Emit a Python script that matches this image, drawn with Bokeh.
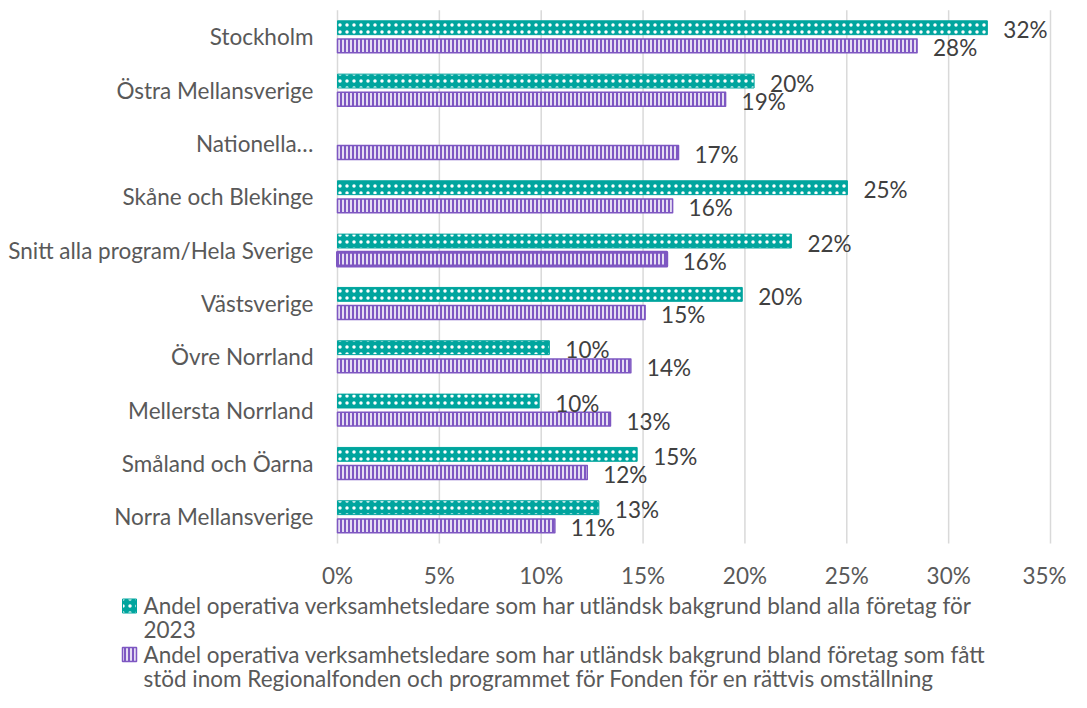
from bokeh.plotting import figure
from bokeh.models import Range1d, ColumnDataSource
from bokeh.embed import file_html
from bokeh.resources import INLINE
from bokeh.core.properties import value

# ---------------- data ----------------
categories = [
    "Stockholm",
    "Östra Mellansverige",
    "Nationella…",
    "Skåne och Blekinge",
    "Snitt alla program/Hela Sverige",
    "Västsverige",
    "Övre Norrland",
    "Mellersta Norrland",
    "Småland och Öarna",
    "Norra Mellansverige",
]
share_all_2023 = [31.9, 20.45, None, 25.03, 22.28, 19.87, 10.4, 9.9, 14.71, 12.83]
share_supported = [28.45, 19.05, 16.74, 16.45, 16.16, 15.1, 14.4, 13.4, 12.26, 10.67]

x_ticks = [0, 5, 10, 15, 20, 25, 30, 35]
x_tick_labels = ["0%", "5%", "10%", "15%", "20%", "25%", "30%", "35%"]

legend_lines_all = [
    "Andel operativa verksamhetsledare som har utländsk bakgrund bland alla företag för",
    "2023",
]
legend_lines_supported = [
    "Andel operativa verksamhetsledare som har utländsk bakgrund bland företag som fått",
    "stöd inom Regionalfonden och programmet för Fonden för en rättvis omställning",
]

# ---------------- style / layout ----------------
FONT = "Lato"
FS = "22.5px"
TEAL = "#00A59E"
PURPLE = "#7E57C2"
GRID = "#D9D9D9"
TXT = "#595959"
LBL = "#404040"
W, H = 1071, 692

PLOT_LEFT_PX = 337      # pixel position of the value 0
PLOT_RIGHT_PX = 1050    # pixel position of the axis maximum
ROW_PX = 53.33          # height of one category band
ROW0_PX = 36.3          # centre of the first category band
x_max = x_ticks[-1]
px_per_unit = (PLOT_RIGHT_PX - PLOT_LEFT_PX) / x_max

def px_x(px):
    return (px - PLOT_LEFT_PX) / px_per_unit

def px_y(py):
    return (py - ROW0_PX) / ROW_PX

p = figure(
    width=W, height=H,
    x_range=Range1d(px_x(0), px_x(W)),
    y_range=Range1d(px_y(H), px_y(0)),          # category index grows downwards
    output_backend="svg", toolbar_location=None,
    min_border_left=0, min_border_right=0, min_border_top=0, min_border_bottom=0,
    x_axis_location=None, y_axis_location=None,
)
p.outline_line_color = None
p.grid.visible = False

n = len(categories)
idx = list(range(n))

# vertical gridlines across the category bands
p.segment(x0=x_ticks, x1=x_ticks, y0=[-0.5] * len(x_ticks), y1=[n - 0.5] * len(x_ticks),
          line_color=GRID, line_width=1.5)

# x tick labels below the bands (last one nudged so it stays inside the canvas)
tick_src = ColumnDataSource(dict(
    x=x_ticks, y=[n - 0.5] * len(x_ticks), text=x_tick_labels,
    dx=[0] * (len(x_ticks) - 1) + [-6],
))
p.text(x="x", y="y", text="text", x_offset="dx", y_offset=32, source=tick_src,
       text_align="center", text_baseline="middle",
       text_font=value(FONT), text_font_size=FS, text_color=TXT)

# category labels left of the value 0
p.text(x=[0] * n, y=idx, text=categories, x_offset=-24,
       text_align="right", text_baseline="middle",
       text_font=value(FONT), text_font_size=FS, text_color=TXT)

OFF = 0.17
teal_rows = [(i, v) for i, v in zip(idx, share_all_2023) if v is not None]
src_t = ColumnDataSource(dict(
    y=[i - OFF for i, v in teal_rows],
    val=[v for i, v in teal_rows],
    lab=[f"{round(v)}%" for i, v in teal_rows],
))
src_p = ColumnDataSource(dict(
    y=[i + OFF for i in idx],
    val=share_supported,
    lab=[f"{round(v)}%" for v in share_supported],
    lw=[3 if c.startswith("Snitt") else 1.5 for c in categories],
))

teal_style = dict(fill_color=TEAL, line_color=TEAL, hatch_pattern=".", hatch_color="white",
                  hatch_scale=7, hatch_weight=1.2)
purple_style = dict(fill_color=PURPLE, line_color=PURPLE, hatch_pattern="|", hatch_color="white",
                    hatch_scale=4, hatch_weight=1.6)

p.hbar(y="y", left=0, right="val", height=0.26, source=src_t, line_width=1, **teal_style)
p.hbar(y="y", left=0, right="val", height=0.26, source=src_p,
       line_width="lw", line_join="round", **purple_style)

for src in (src_t, src_p):
    p.text(x="val", y="y", text="lab", source=src,
           x_offset=16, y_offset=2, text_baseline="middle", text_align="left",
           text_font=value(FONT), text_font_size=FS, text_color=LBL)

# ---------------- legend ----------------
centres_px = [605, 629.3, 653.6, 678]
legend_text = legend_lines_all + legend_lines_supported
p.text(x=[px_x(143)] * 4, y=[px_y(c) for c in centres_px], text=legend_text,
       text_align="left", text_baseline="middle",
       text_font=value(FONT), text_font_size=FS, text_color=TXT)
p.rect(x=[px_x(129)], y=[px_y(centres_px[0] + 0.5)], width=14, height=14,
       width_units="screen", height_units="screen", line_width=1, **teal_style)
p.rect(x=[px_x(129)], y=[px_y(centres_px[2] + 0.5)], width=14, height=14,
       width_units="screen", height_units="screen", line_width=1.5, **purple_style)

open("out.html", "w").write(file_html(p, INLINE))
